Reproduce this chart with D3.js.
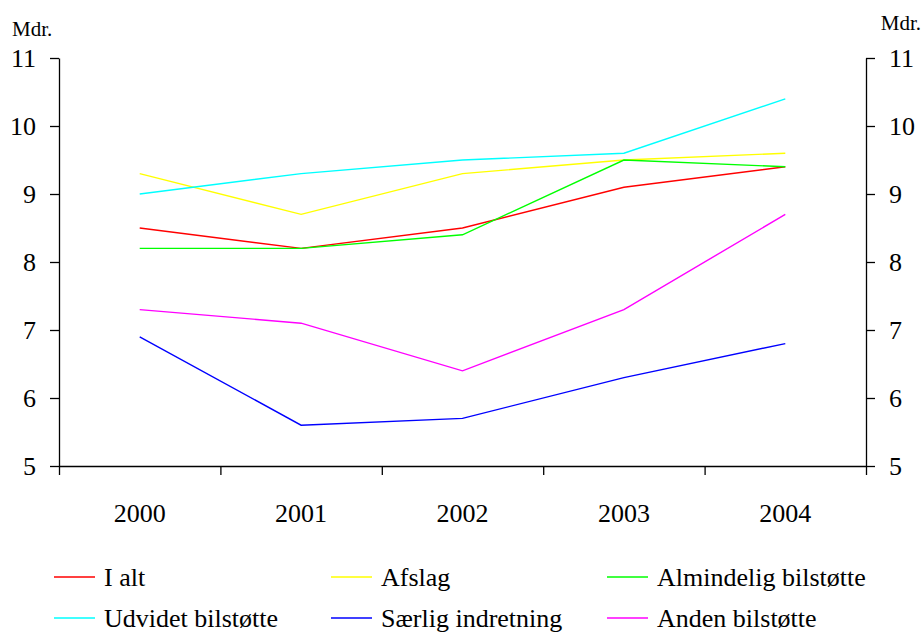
<!DOCTYPE html>
<html>
<head>
<meta charset="utf-8">
<script src="https://cdn.jsdelivr.net/npm/d3@7"></script>
<style>
  body { margin: 0; background: #fff; }
  .axis path, .axis line { stroke: #000; stroke-width: 1.3; }
</style>
</head>
<body>
<svg id="chart"></svg>
<script>
// Data
const years = ['2000', '2001', '2002', '2003', '2004'];
const seriesNames = ['I alt', 'Afslag', 'Almindelig bilstøtte', 'Udvidet bilstøtte', 'Særlig indretning', 'Anden bilstøtte'];
const seriesColors = ['#ff0000', '#ffff00', '#00ff00', '#00ffff', '#0000ff', '#ff00ff'];
const iAlt = [8.5, 8.2, 8.5, 9.1, 9.4];
const afslag = [9.3, 8.7, 9.3, 9.5, 9.6];
const almindelig = [8.2, 8.2, 8.4, 9.5, 9.4];
const udvidet = [9.0, 9.3, 9.5, 9.6, 10.4];
const saerlig = [6.9, 5.6, 5.7, 6.3, 6.8];
const anden = [7.3, 7.1, 6.4, 7.3, 8.7];
const yTicks = [5, 6, 7, 8, 9, 10, 11];

const seriesValues = [iAlt, afslag, almindelig, udvidet, saerlig, anden];
const series = seriesNames.map((name, i) => ({
  name: name,
  color: seriesColors[i],
  values: seriesValues[i].map((v, j) => ({year: years[j], value: v}))
}));

const width = 922, height = 634;
const plotLeft = 59, plotRight = 866, plotTop = 58, plotBottom = 466;
const serif = '"Liberation Serif", "Times New Roman", serif';

const svg = d3.select('#chart')
    .attr('width', width)
    .attr('height', height);

// Scales
const xScale = d3.scaleBand().domain(years).range([plotLeft, plotRight]).padding(0);
const xEdge = d3.scaleLinear().domain([0, years.length]).range([plotLeft, plotRight]);
const yScale = d3.scaleLinear().domain([5, 11]).range([plotBottom, plotTop]);

function styleAxis(g) {
  g.attr('font-family', serif).attr('font-size', 26);
  g.selectAll('text').style('font-family', serif).style('font-size', '26px').attr('fill', '#000');
}

// Axes
svg.append('g')
    .attr('class', 'axis')
    .attr('transform', `translate(${plotLeft},0)`)
    .call(d3.axisLeft(yScale).tickValues(yTicks).tickFormat(d3.format('d')).tickSize(9).tickPadding(14).tickSizeOuter(0))
    .call(styleAxis);

svg.append('g')
    .attr('class', 'axis')
    .attr('transform', `translate(${plotRight},0)`)
    .call(d3.axisRight(yScale).tickValues(yTicks).tickFormat(d3.format('d')).tickSize(9).tickPadding(14).tickSizeOuter(0))
    .call(styleAxis);

// boundary ticks on x axis
svg.append('g')
    .attr('class', 'axis')
    .attr('transform', `translate(0,${plotBottom})`)
    .call(d3.axisBottom(xEdge).tickValues(d3.range(years.length + 1)).tickFormat('').tickSize(9).tickSizeOuter(0));

// year labels
svg.append('g')
    .attr('class', 'axis')
    .attr('transform', `translate(0,${plotBottom})`)
    .call(d3.axisBottom(xScale).tickSize(0).tickPadding(38))
    .call(g => g.select('.domain').remove())
    .call(styleAxis);

svg.append('text')
    .attr('x', 12).attr('y', 36)
    .style('font-family', serif)
    .style('font-size', '21px')
    .text('Mdr.');

svg.append('text')
    .attr('x', 921).attr('y', 30)
    .style('font-family', serif)
    .style('font-size', '21px')
    .style('text-anchor', 'end')
    .text('Mdr.');

// Lines
const line = d3.line()
    .x(d => xScale(d.year) + xScale.bandwidth() / 2)
    .y(d => yScale(d.value));

svg.selectAll('.series')
    .data(series)
  .join('path')
    .attr('class', 'series')
    .attr('fill', 'none')
    .attr('stroke', d => d.color)
    .attr('stroke-width', 1.4)
    .attr('d', d => line(d.values));

// Legend
const legendX = [54, 331, 607];
const legendY = [577, 618];
const legend = svg.selectAll('.legend')
    .data(series)
  .join('g')
    .attr('class', 'legend')
    .attr('transform', (d, i) => `translate(${legendX[i % 3]},${legendY[Math.floor(i / 3)]})`);

legend.append('line')
    .attr('x1', 0).attr('x2', 41)
    .attr('stroke', d => d.color)
    .attr('stroke-width', 1.5);

legend.append('text')
    .attr('x', 50)
    .attr('dy', '0.33em')
    .style('font-family', serif)
    .style('font-size', '26px')
    .text(d => d.name);
</script>
</body>
</html>
